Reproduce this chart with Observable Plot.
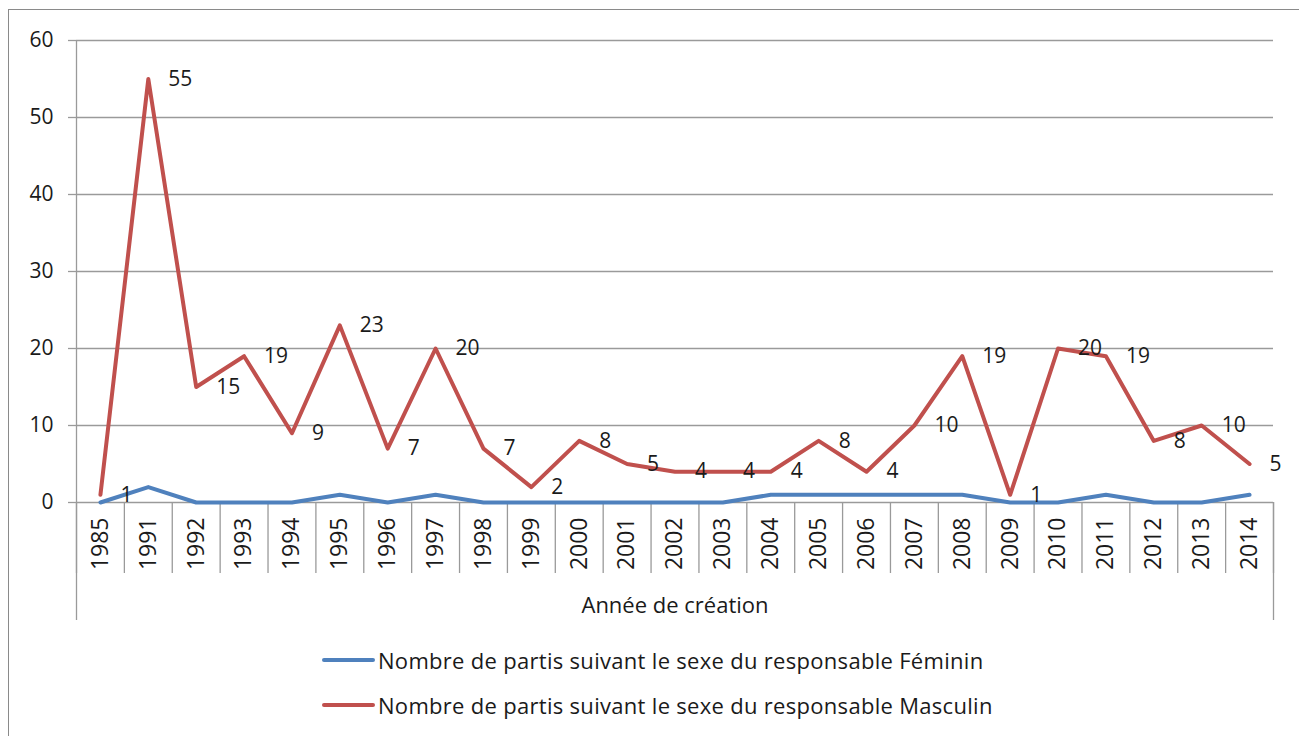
<!DOCTYPE html>
<html>
<head>
<meta charset="utf-8">
<script src="https://cdn.jsdelivr.net/npm/d3@7"></script>
<script src="https://cdn.jsdelivr.net/npm/@observablehq/plot@0.6"></script>
<style>
  html, body { margin: 0; padding: 0; background: #fff; width: 1299px; height: 736px; overflow: hidden; }
  #frame { position: absolute; left: 8px; top: 9px; width: 1300px; height: 740px; border: 1.5px solid #8a8a8a; box-sizing: border-box; }
  #chart { position: absolute; left: 0; top: 0; }
  #legend { position: absolute; left: 322px; top: 646px; font-family: "Open Sans", sans-serif; font-size: 22px; letter-spacing: 0.3px; color: #1a1a1a; }
  .row { display: flex; align-items: center; height: 28px; margin-bottom: 17px; }
  .sw { width: 53px; height: 4px; margin-right: 3px; border-radius: 2px; }
</style>
</head>
<body>
<div id="frame"></div>
<div id="chart"></div>
<div id="legend"></div>
<script>
const years = ["1985","1991","1992","1993","1994","1995","1996","1997","1998","1999","2000","2001","2002","2003","2004","2005","2006","2007","2008","2009","2010","2011","2012","2013","2014"];
const feminin = [0,2,0,0,0,1,0,1,0,0,0,0,0,0,1,1,1,1,1,0,0,1,0,0,1];
const masculin = [1,55,15,19,9,23,7,20,7,2,8,5,4,4,4,8,4,10,19,1,20,19,8,10,5];
const yTicks = [0,10,20,30,40,50,60];
const seriesNames = ["Nombre de partis suivant le sexe du responsable Féminin","Nombre de partis suivant le sexe du responsable Masculin"];
const colors = ["#4F81BD","#C0504D"];
const xTitle = "Année de création";

const fem = years.map((y, i) => ({year: y, pos: i + 0.5, value: feminin[i]}));
const masc = years.map((y, i) => ({year: y, pos: i + 0.5, value: masculin[i]}));
const centers = years.map((y, i) => i + 0.5);
const bounds = d3.range(years.length + 1);
const grey = "#9a9a9a";

const chart = Plot.plot({
  width: 1299,
  height: 630,
  marginLeft: 76,
  marginRight: 26,
  marginTop: 40,
  marginBottom: 128,
  x: {domain: [0, years.length], axis: null},
  y: {domain: [0, 60], axis: null},
  style: {fontFamily: "'Open Sans', sans-serif", fontSize: "21px", color: "#1a1a1a", background: "transparent"},
  marks: [
    Plot.gridY(yTicks, {stroke: grey, strokeOpacity: 1, strokeWidth: 1.3}),
    Plot.axisY(yTicks, {tickSize: 8, tickPadding: 15, stroke: grey, strokeWidth: 1.3, tickFormat: d => String(d), label: null, fontSize: 21}),
    Plot.ruleX([0], {stroke: grey, strokeWidth: 1.3}),
    Plot.axisX(bounds, {tickSize: 71, tickFormat: () => "", stroke: grey, strokeWidth: 1.3, label: null}),
    Plot.axisX([0, years.length], {tickSize: 118, tickFormat: () => "", stroke: grey, strokeWidth: 1.3, label: null}),
    Plot.axisX(centers, {tickSize: 0, tickPadding: 15, tickRotate: -90, tickFormat: d => years[Math.floor(d)], label: null, fontSize: 23}),
    Plot.lineY(fem, {x: "pos", y: "value", stroke: colors[0], strokeWidth: 4}),
    Plot.lineY(masc, {x: "pos", y: "value", stroke: colors[1], strokeWidth: 4}),
    Plot.text(masc, {x: "pos", y: "value", text: d => String(d.value), dx: 20, textAnchor: "start", fontSize: 21, fill: "#1a1a1a"}),
    Plot.text([xTitle], {frameAnchor: "bottom", dy: 110, fontSize: 22, fill: "#1a1a1a"})
  ]
});
document.getElementById("chart").appendChild(chart);

const legend = document.getElementById("legend");
seriesNames.forEach((name, i) => {
  const row = document.createElement("div");
  row.className = "row";
  const sw = document.createElement("span");
  sw.className = "sw";
  sw.style.background = colors[i];
  const t = document.createElement("span");
  t.textContent = name;
  row.appendChild(sw);
  row.appendChild(t);
  legend.appendChild(row);
});
</script>
</body>
</html>
